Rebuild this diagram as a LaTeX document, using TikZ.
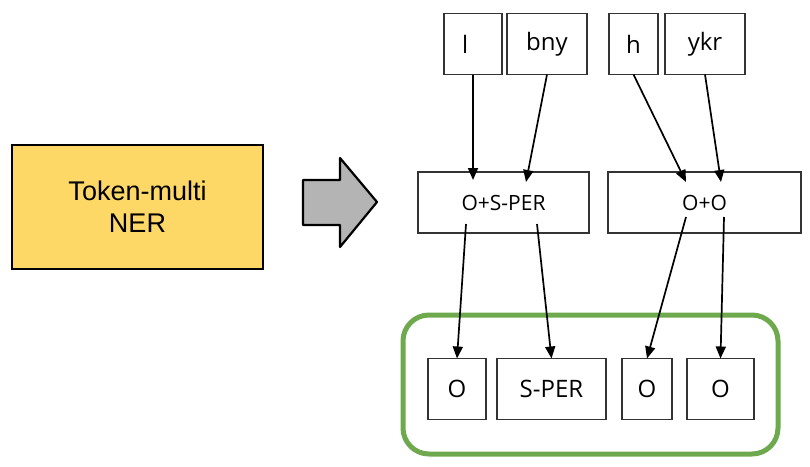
\documentclass[tikz,border=0pt]{standalone}
\usepackage{fontspec}
\setmainfont{Open Sans}
\newfontfamily\arialfont{Liberation Sans}
\usetikzlibrary{arrows.meta}
\definecolor{nerYellow}{HTML}{FDD866}
\definecolor{boxGreen}{HTML}{6EA94D}
\definecolor{arrGray}{HTML}{B4B4B4}
\tikzset{
  tok/.style={draw=black!80, line width=1.5pt, minimum height=61pt, inner sep=0pt, outer sep=0pt, font=\fontsize{24}{28}\selectfont},
  mix/.style={tok, font=\fontsize{21}{25}\selectfont},
  link/.style={-{Triangle[length=12pt,width=10pt]}, line width=1.7pt}
}
\begin{document}
\begin{tikzpicture}[x=1pt, y=-1pt]
    \useasboundingbox (0,0) rectangle (810,466);

    % model box and big arrow
    \node[draw=black, line width=2.2pt, fill=nerYellow, minimum width=251pt, minimum height=124pt, align=center,
          font=\arialfont\fontsize{27}{32}\selectfont] (ner) at (137.5,207) {Token-multi\\NER};
    \draw[line width=2.2pt, fill=arrGray, line join=round]
        (303,180) -- (340,180) -- (340,158) -- (377,202) -- (340,247) -- (340,225) -- (303,225) -- cycle;

    % tokens
    \foreach \x/\w/\t/\n in {473/58/\makebox[22pt][l]{l}/l, 547/80/bny/bny, 633.5/49/h/h, 705/80/ykr/ykr}
        \node[tok, minimum width=\w pt] (\n) at (\x,44) {\t};

    % merged tags
    \node[mix, minimum width=171pt] (sper) at (503.5,202.5) {O+S-PER};
    \node[mix, minimum width=193pt] (oo) at (704.5,202.5) {O+O};

    % split tags
    \draw[boxGreen, line width=5pt, rounded corners=26pt] (403,315) rectangle (778,454);
    \foreach \x/\w/\t/\n in {457/58/O/b1, 551.5/109/S-PER/b2, 647/50/O/b3, 720.5/67/O/b4}
        \node[tok, minimum width=\w pt] (\n) at (\x,389) {\t};

    \draw[link] (l.south) -- ([xshift=-30.5pt, yshift=-8pt]sper.north);
    \draw[link] (bny.south) -- ([xshift=22.5pt, yshift=-10pt]sper.north);
    \draw[link] (h.south) -- ([xshift=-18.5pt, yshift=-10pt]oo.north);
    \draw[link] (ykr.south) -- ([xshift=16.5pt, yshift=-10pt]oo.north);

    \draw[link] ([xshift=-37.5pt, yshift=9pt]sper.south) -- (b1.north);
    \draw[link] ([xshift=33.5pt, yshift=9pt]sper.south) -- (b2.north);
    \draw[link] ([xshift=-18.5pt, yshift=16pt]oo.south) -- (b3.north);
    \draw[link] ([xshift=19.5pt, yshift=16pt]oo.south) -- (b4.north);

\end{tikzpicture}
\end{document}
